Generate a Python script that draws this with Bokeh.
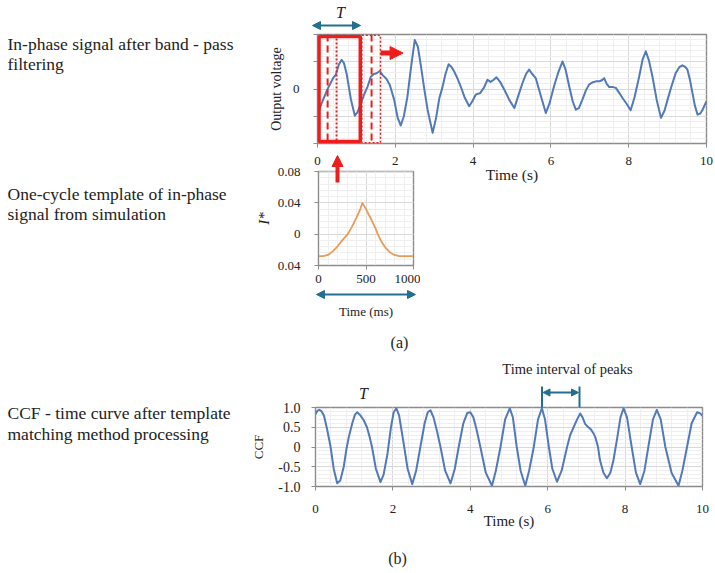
from bokeh.plotting import figure
from bokeh.models import (Range1d, FixedTicker, Arrow, NormalHead, Span,
                          BoxAnnotation, GridBox)
from bokeh.core.properties import value
from bokeh.embed import file_html
from bokeh.resources import INLINE

SERIF = "Liberation Serif"
BLUE = "#5279B9"
ORANGE = "#EC9A58"
RED = "#EE1D1D"
TEAL = "#22708E"
GRID_MAJ = "#D9D9D9"
GRID_MIN = "#EFEFEF"
FRAME = "#8C8C8C"
TXT = "#222222"

# ---------------- data ----------------
sig_t = [0.00, 0.10, 0.26, 0.40, 0.47, 0.55, 0.62, 0.68, 0.75, 0.86, 0.96, 1.03, 1.11, 1.20,
         1.29, 1.37, 1.45, 1.52, 1.60, 1.68, 1.77, 1.86, 1.97, 2.06, 2.14, 2.22, 2.31, 2.40,
         2.50, 2.58, 2.66, 2.75, 2.83, 2.96, 3.05, 3.13, 3.21, 3.29, 3.37, 3.45, 3.51, 3.60,
         3.68, 3.78, 3.90, 3.98, 4.07, 4.18, 4.28, 4.37, 4.45, 4.53, 4.60, 4.70, 4.80, 4.93,
         5.06, 5.15, 5.27, 5.36, 5.44, 5.52, 5.61, 5.72, 5.87, 5.96, 6.08, 6.20, 6.30, 6.38,
         6.47, 6.56, 6.64, 6.72, 6.81, 6.90, 6.98, 7.08, 7.16, 7.25, 7.32, 7.37, 7.43, 7.50,
         7.60, 7.67, 7.76, 7.84, 7.95, 8.05, 8.15, 8.27, 8.36, 8.44, 8.52, 8.61, 8.72, 8.83,
         8.92, 9.00, 9.10, 9.21, 9.30, 9.38, 9.46, 9.51, 9.58, 9.64, 9.70, 9.77, 9.84, 9.90,
         10.00]
sig_v = [-0.94, -0.55, 0.00, 0.40, 0.52, 0.90, 1.07, 0.95, 0.55, -0.39, -0.98, -0.85, -0.55, -0.20,
         0.10, 0.45, 0.55, 0.58, 0.66, 0.50, 0.38, 0.15, -0.39, -1.05, -1.34, -1.00, -0.30, 0.75,
         1.80, 1.55, 0.83, -0.05, -0.76, -1.61, -1.05, -0.35, 0.05, 0.55, 0.91, 0.80, 0.65, 0.38,
         0.10, -0.30, -0.63, -0.45, -0.20, -0.15, 0.05, 0.34, 0.26, 0.34, 0.43, 0.25, -0.02, -0.40,
         -0.70, -0.30, 0.22, 0.55, 0.71, 0.55, 0.40, -0.15, -0.88, -0.55, 0.10, 0.65, 1.01, 0.70,
         0.10, -0.45, -0.76, -0.70, -0.39, -0.05, 0.16, 0.25, 0.28, 0.28, 0.33, 0.40, 0.20, 0.07,
         0.07, 0.04, -0.15, -0.33, -0.55, -0.78, -0.30, 0.46, 1.10, 1.38, 1.05, 0.46, -0.40, -1.06,
         -0.80, -0.39, 0.10, 0.59, 0.80, 0.87, 0.80, 0.71, 0.30, -0.15, -0.60, -0.94, -0.90, -0.76,
         -0.45]

tpl_ms = [0, 50, 100, 150, 200, 250, 308, 350, 400, 440, 462, 500, 550, 600, 624, 660, 700,
          750, 800, 850, 1000]
tpl_v = [-0.028, -0.028, -0.0265, -0.022, -0.0155, -0.008, 0.0, 0.009, 0.021, 0.032, 0.040,
         0.032, 0.020, 0.0075, 0.0, -0.009, -0.0165, -0.023, -0.0265, -0.028, -0.028]

ccf_t = [0.00, 0.05, 0.10, 0.16, 0.22, 0.30, 0.39, 0.47, 0.56, 0.64, 0.73, 0.80, 0.86, 0.95,
         1.02, 1.08, 1.16, 1.25, 1.33, 1.40, 1.46, 1.56, 1.68, 1.76, 1.86, 1.95, 2.02, 2.09,
         2.16, 2.28, 2.38, 2.50, 2.60, 2.71, 2.82, 2.90, 2.97, 3.05, 3.14, 3.23, 3.35, 3.49,
         3.60, 3.70, 3.82, 3.92, 4.00, 4.08, 4.16, 4.26, 4.40, 4.56, 4.66, 4.78, 4.90, 5.02,
         5.10, 5.20, 5.30, 5.42, 5.52, 5.64, 5.75, 5.85, 5.93, 6.03, 6.12, 6.24, 6.36, 6.50,
         6.58, 6.67, 6.76, 6.84, 6.90, 6.97, 7.05, 7.12, 7.18, 7.23, 7.30, 7.35, 7.44, 7.53,
         7.62, 7.70, 7.80, 7.88, 7.96, 8.05, 8.17, 8.28, 8.39, 8.50, 8.60, 8.72, 8.82, 8.92,
         9.04, 9.20, 9.38, 9.48, 9.60, 9.72, 9.86, 9.94, 10.00]
ccf_v = [0.83, 0.92, 0.94, 0.90, 0.79, 0.45, 0.00, -0.55, -0.92, -0.85, -0.50, -0.05, 0.25, 0.60,
         0.82, 0.88, 0.80, 0.67, 0.50, 0.25, 0.00, -0.55, -0.89, -0.70, -0.17, 0.50, 0.88, 0.98,
         0.80, 0.08, -0.55, -0.94, -0.60, 0.00, 0.60, 0.88, 0.93, 0.75, 0.40, 0.00, -0.60, -0.92,
         -0.55, 0.00, 0.60, 0.86, 0.88, 0.75, 0.45, 0.00, -0.65, -0.98, -0.60, 0.00, 0.70, 0.98,
         0.75, 0.00, -0.60, -0.98, -0.60, 0.00, 0.70, 0.98, 0.70, 0.00, -0.55, -0.88, -0.60, 0.00,
         0.30, 0.50, 0.70, 0.85, 0.75, 0.58, 0.50, 0.44, 0.35, 0.25, 0.00, -0.33, -0.65, -0.79,
         -0.65, -0.33, 0.25, 0.75, 0.98, 0.75, 0.00, -0.65, -0.94, -0.60, 0.00, 0.70, 0.94, 0.70,
         0.00, -0.65, -0.98, -0.60, 0.00, 0.60, 0.88, 0.85, 0.79]

time_ticks = [0, 2, 4, 6, 8, 10]
sig_yticks = [-2, -1, 0, 1, 2]
sig_ylabels = ["", "", "0", "", ""]
tpl_xticks = [0, 500, 1000]
tpl_yticks = [-0.04, 0.0, 0.04, 0.08]
tpl_ylabels = ["0.04", "0", "0.04", "0.08"]
ccf_yticks = [-1.0, -0.5, 0.0, 0.5, 1.0]
ccf_ylabels = ["-1.0", "-0.5", "0", "0.5", "1.0"]

left_texts = ["In-phase signal after band - pass", "filtering",
              "One-cycle template of in-phase", "signal from simulation",
              "CCF - time curve after template", "matching  method processing"]
panel_labels = ["(a)", "(b)"]


def base_fig(w, h, xr, yr, left, right, top, bottom):
    p = figure(width=w, height=h, x_range=xr, y_range=yr, output_backend="svg",
               toolbar_location=None, title=None, min_border_left=left,
               min_border_right=right, min_border_top=top, min_border_bottom=bottom)
    p.frame_align = False
    p.border_fill_color = None
    p.background_fill_color = None
    p.outline_line_color = FRAME
    p.outline_line_width = 1.4
    return p


def style(p, xt, xminor, yt, yminor, ylabels, xfs, yfs, xstand, ystand):
    p.xaxis.ticker = FixedTicker(ticks=xt, minor_ticks=xminor)
    p.yaxis.ticker = FixedTicker(ticks=yt, minor_ticks=yminor)
    p.yaxis.major_label_overrides = {t: s for t, s in zip(yt, ylabels)}
    for ax in (p.xaxis, p.yaxis):
        ax.axis_line_color = FRAME
        ax.major_tick_line_color = FRAME
        ax.major_tick_out = 4
        ax.major_tick_in = 0
        ax.minor_tick_line_color = None
        ax.major_label_text_font = SERIF
        ax.major_label_text_color = TXT
        ax.axis_label_text_font = SERIF
        ax.axis_label_text_font_style = "normal"
        ax.axis_label_text_color = TXT
    p.xaxis.major_label_text_font_size = xfs
    p.yaxis.major_label_text_font_size = yfs
    p.xaxis.major_label_standoff = xstand
    p.yaxis.major_label_standoff = ystand
    for g in (p.xgrid, p.ygrid):
        g.grid_line_color = GRID_MAJ
        g.minor_grid_line_color = GRID_MIN


def box(**kw):
    return BoxAnnotation(fill_alpha=0, line_alpha=1, line_color=RED, **kw)


def head(color, size):
    return NormalHead(size=size, fill_color=color, line_color=color)


# ---------------- top: in-phase signal ----------------
pt = base_fig(453, 199, Range1d(0, 10), Range1d(-2, 2), 55, 9, 34, 56)
style(pt, time_ticks, [i * 0.4 for i in range(26)], sig_yticks, [i * 0.2 - 2 for i in range(21)],
      sig_ylabels, "13px", "13px", 9, 14)
pt.xaxis.axis_label = "Time (s)"
pt.xaxis.axis_label_text_font_size = "15.5px"
pt.xaxis.axis_label_standoff = -2
pt.yaxis.axis_label = "Output voltage"
pt.yaxis.axis_label_text_font_size = "14px"
pt.yaxis.axis_label_standoff = 6
pt.line(sig_t, sig_v, line_color=BLUE, line_width=2, line_join="round")
pt.add_layout(box(left=0.04, right=1.1, bottom=-1.93, top=1.93, line_width=3.5))
pt.add_layout(box(left=1.14, right=1.62, bottom=-1.97, top=1.97, line_width=1.5,
                  line_dash="2 2"))
for loc, dash in ((0.26, "7 4"), (1.39, "7 4"), (0.49, "2 2")):
    pt.add_layout(Span(location=loc, dimension="height", line_color=RED, line_width=2,
                       line_dash=dash))
pt.add_layout(Arrow(x_start=1.62, y_start=1.32, x_end=2.2, y_end=1.32, line_color=RED,
                    line_width=5, end=head(RED, 13)))

# ---------------- middle: template ----------------
pm = base_fig(168, 176, Range1d(0, 1000), Range1d(-0.04, 0.08), 66, 7, 21, 61)
style(pm, tpl_xticks, [i * 100 for i in range(11)], tpl_yticks,
      [-0.04 + i * 0.008 for i in range(16)], tpl_ylabels, "13px", "13px", 5, 14)
pm.xaxis.axis_label = "Time (ms)"
pm.xaxis.axis_label_text_font_size = "13px"
pm.xaxis.axis_label_standoff = 18
pm.yaxis.axis_label = "I*"
pm.yaxis.axis_label_text_font_size = "15px"
pm.yaxis.axis_label_text_font_style = "italic"
pm.yaxis.axis_label_standoff = 3
pm.line(tpl_ms, tpl_v, line_color=ORANGE, line_width=1.8, line_join="round")

# ---------------- bottom: CCF ----------------
pc = base_fig(467, 180, Range1d(0, 10), Range1d(-1, 1), 67, 13, 49, 52)
style(pc, time_ticks, [i * 0.4 for i in range(26)], ccf_yticks,
      [-1 + i * 0.1 for i in range(21)], ccf_ylabels, "13px", "14px", 14, 11)
pc.xaxis.axis_label = "Time (s)"
pc.xaxis.axis_label_text_font_size = "15px"
pc.xaxis.axis_label_standoff = -3
pc.yaxis.axis_label = "CCF"
pc.yaxis.axis_label_text_font_size = "13px"
pc.yaxis.axis_label_standoff = 9
pc.line(ccf_t, ccf_v, line_color=BLUE, line_width=2, line_join="round")

# ---------------- overlay canvas: texts and out-of-frame annotations ----------------
bg = figure(width=715, height=573, x_range=Range1d(0, 715), y_range=Range1d(573, 0),
            output_backend="svg", toolbar_location=None, title=None, x_axis_type=None,
            y_axis_type=None, min_border=0, min_border_left=0, min_border_right=0,
            min_border_top=0, min_border_bottom=0)
bg.frame_align = False
bg.border_fill_color = None
bg.background_fill_color = None
bg.outline_line_color = None
bg.grid.visible = False
bg.text(x=[7] * 6, y=[43, 63, 193, 213, 412, 433], text=left_texts,
        text_font=value(SERIF), text_font_size="17.5px", text_color=TXT,
        text_baseline="middle", text_align="left")
bg.text(x=[399, 397], y=[342, 558], text=panel_labels, text_font=value(SERIF),
        text_font_size="16px", text_color=TXT, text_baseline="middle", text_align="center")
bg.text(x=[340, 363], y=[12, 393], text=["T", "T"], text_font=value(SERIF),
        text_font_style="italic", text_font_size="16px", text_color=TXT,
        text_baseline="middle", text_align="center")
bg.text(x=[567], y=[368], text=["Time interval of peaks"], text_font=value(SERIF),
        text_font_size="14.5px", text_color=TXT, text_baseline="middle", text_align="center")
# period arrow above the top chart
bg.add_layout(Arrow(x_start=312, y_start=25, x_end=360, y_end=25, line_color=TEAL,
                    line_width=2, start=head(TEAL, 8), end=head(TEAL, 8)))
# template time-span arrow
bg.add_layout(Arrow(x_start=316, y_start=294, x_end=415, y_end=294, line_color=TEAL,
                    line_width=2, start=head(TEAL, 8), end=head(TEAL, 8)))
# red upward arrow into the template
bg.add_layout(Arrow(x_start=337, y_start=182, x_end=337, y_end=155, line_color=RED,
                    line_width=4, end=head(RED, 11)))
# time interval bracket on the CCF chart
bg.segment(x0=[541.5, 579], y0=[386, 386], x1=[541.5, 579], y1=[407, 407],
           line_color=TEAL, line_width=2)
bg.add_layout(Arrow(x_start=542.5, y_start=392, x_end=578, y_end=392, line_color=TEAL,
                    line_width=2, start=head(TEAL, 7), end=head(TEAL, 7)))

layout = GridBox(children=[(pt, 0, 3, 2, 2), (pm, 1, 2, 2, 2), (pc, 4, 1, 1, 4),
                           (bg, 0, 0, 6, 5)],
                 rows=["150px", "49px", "127px", "32px", "180px", "35px"],
                 cols=["248px", "4px", "10px", "158px", "295px"], spacing=0)

open("out.html", "w").write(file_html(layout, INLINE))
